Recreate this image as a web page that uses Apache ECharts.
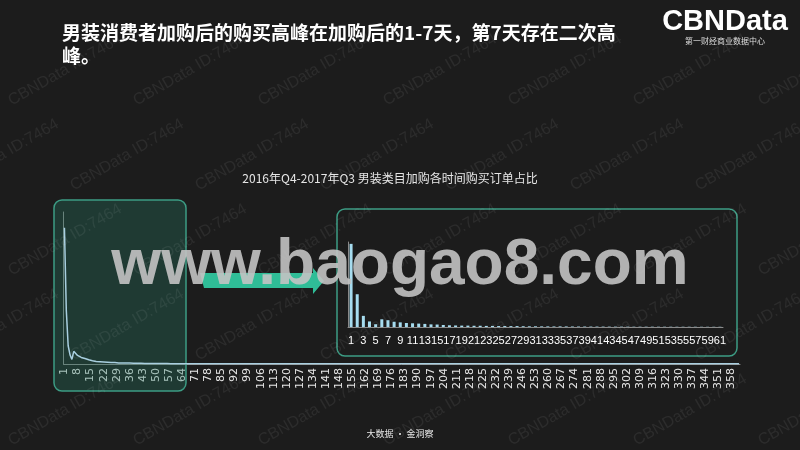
<!DOCTYPE html>
<html><head><meta charset="utf-8">
<script src="https://cdn.jsdelivr.net/npm/echarts@6/dist/echarts.min.js"></script>
<style>html,body{margin:0;padding:0;background:#1c1c1c}#c{width:800px;height:450px}</style>
</head><body><div id="c"></div>
<script>
// ---- data ----
const mainDays = Array.from({length: 362}, (_, i) => String(i + 1));
const mainHead = [26.9, 10.6, 3.6, 1.8, 0.9, 2.5, 2.2, 1.7, 1.5, 1.3, 1.2, 1.1, 1.0, 0.85, 0.8, 0.65, 0.55, 0.5, 0.45, 0.45,
  0.4, 0.4, 0.35, 0.35, 0.3, 0.3, 0.28, 0.3, 0.25, 0.22, 0.22, 0.2, 0.2, 0.18, 0.2, 0.18, 0.16, 0.15, 0.15, 0.14,
  0.14, 0.13, 0.12, 0.12, 0.12, 0.11, 0.1, 0.1, 0.1, 0.1, 0.09, 0.09, 0.09, 0.08, 0.08, 0.08, 0.08, 0.07, 0.07, 0.07, 0.07];
const mainTail = [0.07,0.06,0.06,0.06,0.06,0.06,0.05,0.05,0.05,0.05,0.05,0.05,0.05,0.04,0.04,0.04,0.04,0.04,0.04,0.04];
const insetDays = Array.from({length: 61}, (_, i) => String(i + 1));
const insetValues = mainHead.slice();
const title = ['男装消费者加购后的购买高峰在加购后的1-7天，第7天存在二次高', '峰。'];
const chartTitle = '2016年Q4-2017年Q3 男装类目加购各时间购买订单占比';

const mainValues = mainDays.map((d, i) => {
  if (i < mainHead.length) return mainHead[i];
  const j = i - mainHead.length;
  if (j < mainTail.length) return mainTail[j];
  return 0.03;
});

const chart = echarts.init(document.getElementById('c'), null, {renderer: 'canvas'});
const wm = [];
for (let j = 0; j < 6; j++) {
  for (let i = -1; i < 7; i++) {
    wm.push({type: 'text', x: 65 + 125 * i + (j % 2 ? 62 : 0), y: 70 + 85 * j, rotation: Math.PI / 6, z: 50,
      style: {text: 'CBNData ID:7464', fill: 'rgba(255,255,255,0.07)', font: '16px "Liberation Sans", Arial', align: 'center', verticalAlign: 'middle'}});
  }
}
const font = '"Noto Sans CJK SC", "Liberation Sans", sans-serif';
chart.setOption({
  backgroundColor: '#1c1c1c',
  animation: false,
  graphic: [
    {type: 'rect', shape: {x: 54, y: 200, width: 132, height: 191, r: 8}, z: 1,
      style: {fill: 'rgba(40,120,100,0.33)', stroke: '#3c9c84', lineWidth: 1.5}},
    {type: 'rect', shape: {x: 337, y: 209, width: 400, height: 147, r: 8}, z: 1,
      style: {fill: 'rgba(0,0,0,0)', stroke: '#3c9c84', lineWidth: 1.5}},
    {type: 'polygon', z: 2, shape: {points: [[200, 273], [313, 273], [313, 268], [324, 281], [313, 294], [313, 288], [204, 288]]},
      style: {fill: '#2fbd97'}},
    {type: 'text', x: 62, y: 33, z: 60, style: {text: title[0], fill: '#ffffff', font: 'bold 19px ' + font, verticalAlign: 'middle'}},
    {type: 'text', x: 62, y: 56, z: 60, style: {text: title[1], fill: '#ffffff', font: 'bold 19px ' + font, verticalAlign: 'middle'}},
    {type: 'text', x: 725, y: 22, z: 60, style: {text: 'CBNData', fill: '#ffffff', font: 'bold 29px "Liberation Sans", Arial', align: 'center', verticalAlign: 'middle'}},
    {type: 'text', x: 725, y: 41, z: 60, style: {text: '第一财经商业数据中心', fill: '#dddddd', font: '8px ' + font, align: 'center', verticalAlign: 'middle'}},
    {type: 'text', x: 390, y: 178, z: 60, style: {text: chartTitle, fill: '#e6e6e6', font: '12px ' + font, align: 'center', verticalAlign: 'middle'}},
    {type: 'text', x: 400, y: 434, z: 60, style: {text: '大数据 · 金洞察', fill: '#e6e6e6', font: '9px ' + font, align: 'center', verticalAlign: 'middle'}},
    {type: 'text', x: 400, y: 266, z: 70, style: {text: 'www.baogao8.com', fill: 'rgba(195,195,195,0.9)', font: 'bold 64px "Liberation Sans", Arial', align: 'center', verticalAlign: 'middle'}}
  ].concat(wm),
  grid: [
    {left: 63.5, right: 60, top: 212, bottom: 86},
    {left: 348, right: 77, top: 242, bottom: 123}
  ],
  xAxis: [
    {type: 'category', gridIndex: 0, data: mainDays, boundaryGap: true,
      axisLine: {lineStyle: {color: '#8a8a8a', width: 1}}, axisTick: {show: false},
      axisLabel: {interval: 6, rotate: 90, color: '#e6e6e6', fontSize: 11, margin: 4, fontFamily: '"DejaVu Sans", sans-serif', hideOverlap: false}},
    {type: 'category', gridIndex: 1, data: insetDays, boundaryGap: true,
      axisLine: {lineStyle: {color: '#8a8a8a', width: 1}}, axisTick: {show: false},
      axisLabel: {interval: 1, color: '#ffffff', fontSize: 11, margin: 8, fontFamily: '"Liberation Sans", Arial', hideOverlap: false}}
  ],
  yAxis: [
    {type: 'value', gridIndex: 0, min: 0, max: 30, axisLine: {show: true, lineStyle: {color: '#8a8a8a'}}, axisLabel: {show: false}, axisTick: {show: false}, splitLine: {show: false}},
    {type: 'value', gridIndex: 1, min: 0, max: 27.5, axisLine: {show: true, lineStyle: {color: '#8a8a8a'}}, axisLabel: {show: false}, axisTick: {show: false}, splitLine: {show: false}}
  ],
  series: [
    {type: 'line', xAxisIndex: 0, yAxisIndex: 0, data: mainValues, showSymbol: false, symbol: 'none',
      lineStyle: {color: '#a9cfe0', width: 1.5}, z: 5},
    {type: 'bar', xAxisIndex: 1, yAxisIndex: 1, data: insetValues, barWidth: 3,
      itemStyle: {color: '#a6dcef'}, z: 5}
  ]
});
</script></body></html>
